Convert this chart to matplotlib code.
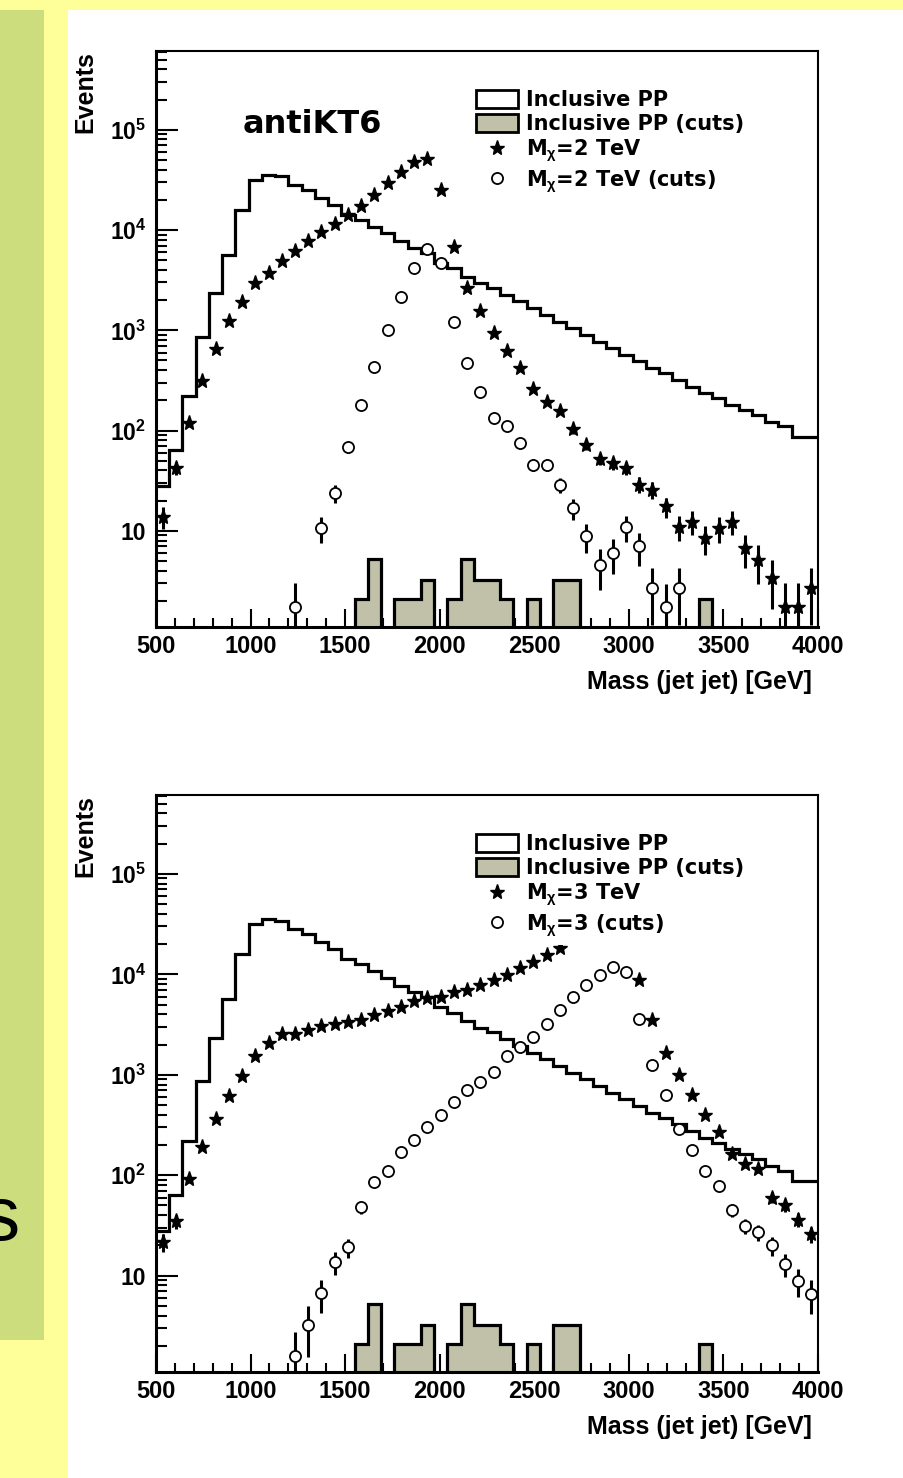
import numpy as np
import matplotlib
matplotlib.use('Agg')
import matplotlib.pyplot as plt
from matplotlib.patches import Rectangle, Patch
from matplotlib.lines import Line2D
from matplotlib.ticker import FixedLocator, MultipleLocator, LogLocator, FuncFormatter, NullFormatter

plt.rcParams['mathtext.fontset'] = 'custom'
plt.rcParams['mathtext.rm'] = 'Liberation Sans:bold'
plt.rcParams['mathtext.it'] = 'Liberation Sans:bold'
plt.rcParams['mathtext.bf'] = 'Liberation Sans:bold'

# bins de massa (GeV), 50 bins de 70 GeV
edges = np.arange(500, 4001, 70)
centers = edges[:-1] + 35

# fundo inclusivo PP (igual nos dois paineis)
incl_pp = [27.7, 64, 219, 867, 2350, 5660, 15900, 31700, 35600, 34200,
           28200, 25200, 20800, 17800, 14200, 12600, 10800, 9300, 7700, 6600,
           5890, 4680, 4170, 3440, 2950, 2640, 2260, 1940, 1660, 1430,
           1220, 1050, 900, 773, 664, 570, 489, 420, 374, 321,
           275, 236, 211, 181, 161, 144, 123, 110, 87, 87]

incl_pp_cuts = [0, 0, 0, 0, 0, 0, 0, 0, 0, 0,
                0, 0, 0, 0, 0, 2.1, 5.2, 0, 2.1, 2.1,
                3.2, 0, 2.1, 5.2, 3.2, 3.2, 2.1, 0, 2.1, 0,
                3.2, 3.2, 0, 0, 0, 0, 0, 0, 0, 0,
                0, 2.1, 0, 0, 0, 0, 0, 0, 0, 0]

nan = np.nan
mx2 = [13.9, 42, 120, 313, 649, 1245, 1900, 2950, 3770, 4940,
       6210, 7700, 9460, 11500, 14200, 17500, 22500, 29400, 38300, 47200,
       50900, 25200, 6760, 2640, 1570, 938, 615, 420, 259, 195,
       157, 103, 72, 52, 47, 42, 29, 25.6, 17.5, 11,
       12.4, 8.5, 10.6, 12.4, 6.7, 5.1, 3.4, 1.76, 1.76, 2.7]

mx2_cuts = [nan, nan, nan, nan, nan, nan, nan, nan, nan, nan,
            1.76, nan, 10.6, 23.8, 68, 181, 430, 1010, 2170, 4170,
            6460, 4680, 1210, 471, 245, 135, 110, 75, 45.5, 45.5,
            28.8, 16.8, 8.8, 4.6, 6.0, 10.9, 7.0, 2.7, 1.73, 2.7,
            nan, nan, nan, nan, nan, nan, nan, nan, nan, nan]

mx3 = [21.5, 35, 92, 191, 365, 611, 966, 1530, 2075, 2530,
       2530, 2820, 3050, 3240, 3360, 3550, 3920, 4330, 4750, 5450,
       5750, 5970, 6700, 6970, 7820, 8770, 9840, 11500, 13300, 15600,
       18100, 23500, 30000, 34000, 36000, 23500, 8770, 3500, 1650, 990,
       624, 394, 268, 163, 130, 116, 60, 50, 36, 26]

mx3_cuts = [nan, nan, nan, nan, nan, nan, nan, nan, nan, nan,
            1.58, 3.25, 6.7, 13.6, 19.2, 48, 85, 111, 170, 222,
            302, 394, 535, 701, 849, 1067, 1530, 1890, 2380, 3240,
            4400, 5970, 7820, 9840, 11900, 10600, 3630, 1245, 624, 291,
            179, 111, 79, 45, 31.5, 27, 20, 13.1, 8.9, 6.6]

ytick_vals = [10, 100, 1e3, 1e4, 1e5]
ytick_txt = ['10', '$10^{2}$', '$10^{3}$', '$10^{4}$', '$10^{5}$']

GRAY = '#c0c1a8'
W_EVT = 0.9  # peso por evento, usado nas barras de erro


def draw_panel(ax, sig, sig_cuts, lab_sig, lab_cuts):
    ax.set_yscale('log', nonpositive='clip')
    ax.set_xlim(500, 4000)
    ax.set_ylim(1.1, 6.1e5)

    # histogramas
    ax.stairs(incl_pp, edges, baseline=None, color='black', lw=2.3, zorder=2)
    cuts = np.array(incl_pp_cuts, dtype=float)
    cuts = np.where(cuts > 0, cuts, 1e-3)
    ax.stairs(cuts, edges, baseline=1e-3, fill=True, facecolor=GRAY, zorder=2)
    ax.stairs(cuts, edges, baseline=1e-3, color='black', lw=2.3, zorder=3)

    # sinal
    s = np.array(sig, dtype=float)
    ax.errorbar(centers, s, yerr=np.sqrt(W_EVT * s), fmt='*', ms=11, color='black',
                elinewidth=2.2, capsize=0, zorder=4)
    sc = np.array(sig_cuts, dtype=float)
    ax.errorbar(centers, sc, yerr=np.sqrt(W_EVT * sc), fmt='o', ms=8, mfc='white',
                mec='black', mew=1.3, ecolor='black', elinewidth=2.2, capsize=0, zorder=5)

    # eixos estilo ROOT
    for side in ['left', 'bottom']:
        ax.spines[side].set_linewidth(2.2)
    for side in ['top', 'right']:
        ax.spines[side].set_linewidth(1.5)
    ax.xaxis.set_major_locator(MultipleLocator(500))
    ax.xaxis.set_minor_locator(MultipleLocator(100))
    ax.yaxis.set_major_locator(FixedLocator(ytick_vals))
    ax.yaxis.set_major_formatter(FuncFormatter(lambda v, p: ytick_txt[ytick_vals.index(v)] if v in ytick_vals else ''))
    ax.yaxis.set_minor_locator(LogLocator(base=10, subs=np.arange(2, 10), numticks=20))
    ax.yaxis.set_minor_formatter(NullFormatter())
    ax.tick_params(axis='x', which='major', direction='in', length=13, width=1.5, pad=6,
                   top=False, labelsize=17)
    ax.tick_params(axis='x', which='minor', direction='in', length=6.5, width=1.5, top=False)
    ax.tick_params(axis='y', which='major', direction='in', length=16, width=1.5, pad=7,
                   right=False, labelsize=16.5)
    ax.tick_params(axis='y', which='minor', direction='in', length=8, width=1.5, right=False)
    for t in ax.get_xticklabels() + ax.get_yticklabels():
        t.set_family('Liberation Sans')
        t.set_fontweight('bold')

    ax.set_xlabel('Mass (jet jet) [GeV]', fontsize=18, fontweight='bold', family='Liberation Sans', loc='right')
    ax.xaxis.set_label_coords(0.991, -0.074)
    ax.set_ylabel('Events', fontsize=18, fontweight='bold', family='Liberation Sans', loc='top')
    ax.yaxis.set_label_coords(-0.088, 1.0)

    handles = [Patch(facecolor='white', edgecolor='black', lw=2),
               Patch(facecolor=GRAY, edgecolor='black', lw=2),
               Line2D([], [], marker='*', ls='none', color='black', ms=11),
               Line2D([], [], marker='o', ls='none', mfc='white', mec='black', ms=8, mew=1.3)]
    labels = ['Inclusive PP', 'Inclusive PP (cuts)', lab_sig, lab_cuts]
    leg = ax.legend(handles, labels, loc='upper left', bbox_to_anchor=(0.474, 0.944),
                    borderaxespad=0, borderpad=0.3, handlelength=2.0, handleheight=1.0,
                    handletextpad=0.4, labelspacing=0.18, frameon=True, fancybox=False,
                    prop={'family': 'DejaVu Sans', 'weight': 'bold', 'size': 15})
    leg.get_frame().set_edgecolor('none')
    leg.get_frame().set_facecolor('white')
    leg.get_frame().set_alpha(1)
    leg.set_zorder(10)


fig = plt.figure(figsize=(9.04, 14.78), dpi=100)
fig.patch.set_facecolor('#ffff99')
# painel verde e area branca do slide (atras dos eixos)
fig.patches.append(Rectangle((0, 1 - 1340 / 1478), 44 / 904, 1330 / 1478,
                             transform=fig.transFigure, facecolor='#ccdd7e', edgecolor='none', zorder=-2))
fig.patches.append(Rectangle((68 / 904, 0), 836 / 904, 1468 / 1478,
                             transform=fig.transFigure, facecolor='white', edgecolor='none', zorder=-2))
fig.text(20 / 904, 1 - 1240 / 1478, 's', ha='right', va='baseline', fontsize=55,
         family='Liberation Sans', color='black')

ax1 = fig.add_axes([156 / 904, 1 - 627 / 1478, 662 / 904, 576 / 1478])
ax1.set_zorder(2)
draw_panel(ax1, mx2, mx2_cuts, r'M$_{\chi}$=2 TeV', r'M$_{\chi}$=2 TeV (cuts)')
ax1.text(0.131, 0.858, 'antiKT6', transform=ax1.transAxes, fontsize=23, fontweight='bold',
         family='DejaVu Sans', va='baseline', ha='left')

ax2 = fig.add_axes([156 / 904, 1 - 1372 / 1478, 662 / 904, 577 / 1478])
ax2.set_zorder(2)
draw_panel(ax2, mx3, mx3_cuts, r'M$_{\chi}$=3 TeV', r'M$_{\chi}$=3 (cuts)')

fig.savefig('out.png', dpi=100)
